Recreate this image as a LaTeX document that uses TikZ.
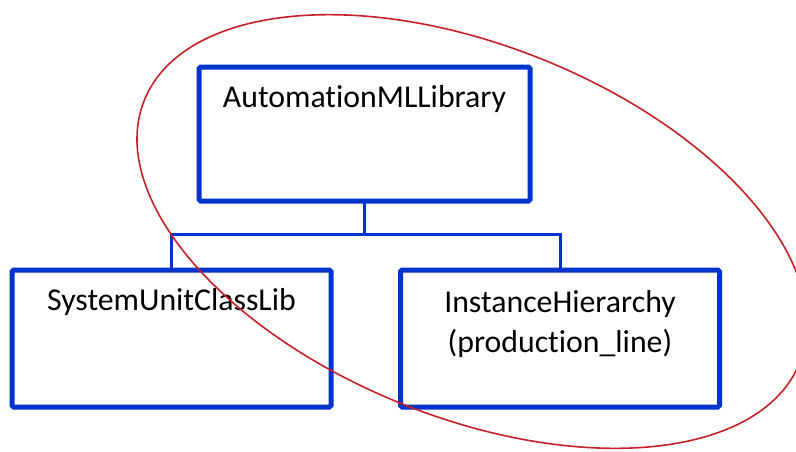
\documentclass[tikz,border=0pt]{standalone}
\usepackage{fontspec}
\setmainfont{Carlito}[Ligatures=CommonOff]
\usetikzlibrary{positioning}
\definecolor{boxblue}{RGB}{0,51,204}
\definecolor{ringred}{RGB}{200,32,40}

\begin{document}
\begin{tikzpicture}[x=0.5pt, y=-0.5pt,
    box/.style={draw=boxblue, line width=2.5pt, rounded corners=0.8pt, outer sep=0pt,
      inner sep=0pt, minimum width=159.5pt, minimum height=68.5pt},
    boxtext/.style={font=\fontsize{15.9}{20}\selectfont, align=center, anchor=base, inner sep=0pt},
    link/.style={draw=boxblue, line width=1.5pt},
    ring/.style={draw=ringred, line width=0.8pt}]
  \useasboundingbox (0,0) rectangle (796,451);

  % library and its two children
  \node[box, minimum width=165.5pt, minimum height=67pt] (lib) at (364.5,134) {};
  \node[box] (suclib) at (171.5,338.5) {};
  \node[box] (ih) at (560,338.5) {};

  \node[boxtext] (libname) at ([yshift=-20pt]lib.north) {AutomationMLLibrary};
  \node[boxtext] (sucname) at ([yshift=-20pt]suclib.north) {SystemUnitClassLib};
  \node[boxtext] (ihname) at ([yshift=-41pt]ih.north) {InstanceHierarchy\\(production\_line)};

  % tree lines
  \coordinate (bus) at ([yshift=-16.5pt]lib.south);
  \draw[link] (lib.south) -- (bus);
  \draw[link] (suclib.north) |- (bus) -| (ih.north);

  % red ring
  \draw[ring, rotate around={-21.8:(472,231.5)}] (472,231.5) ellipse [x radius=353, y radius=186];
\end{tikzpicture}
\end{document}
